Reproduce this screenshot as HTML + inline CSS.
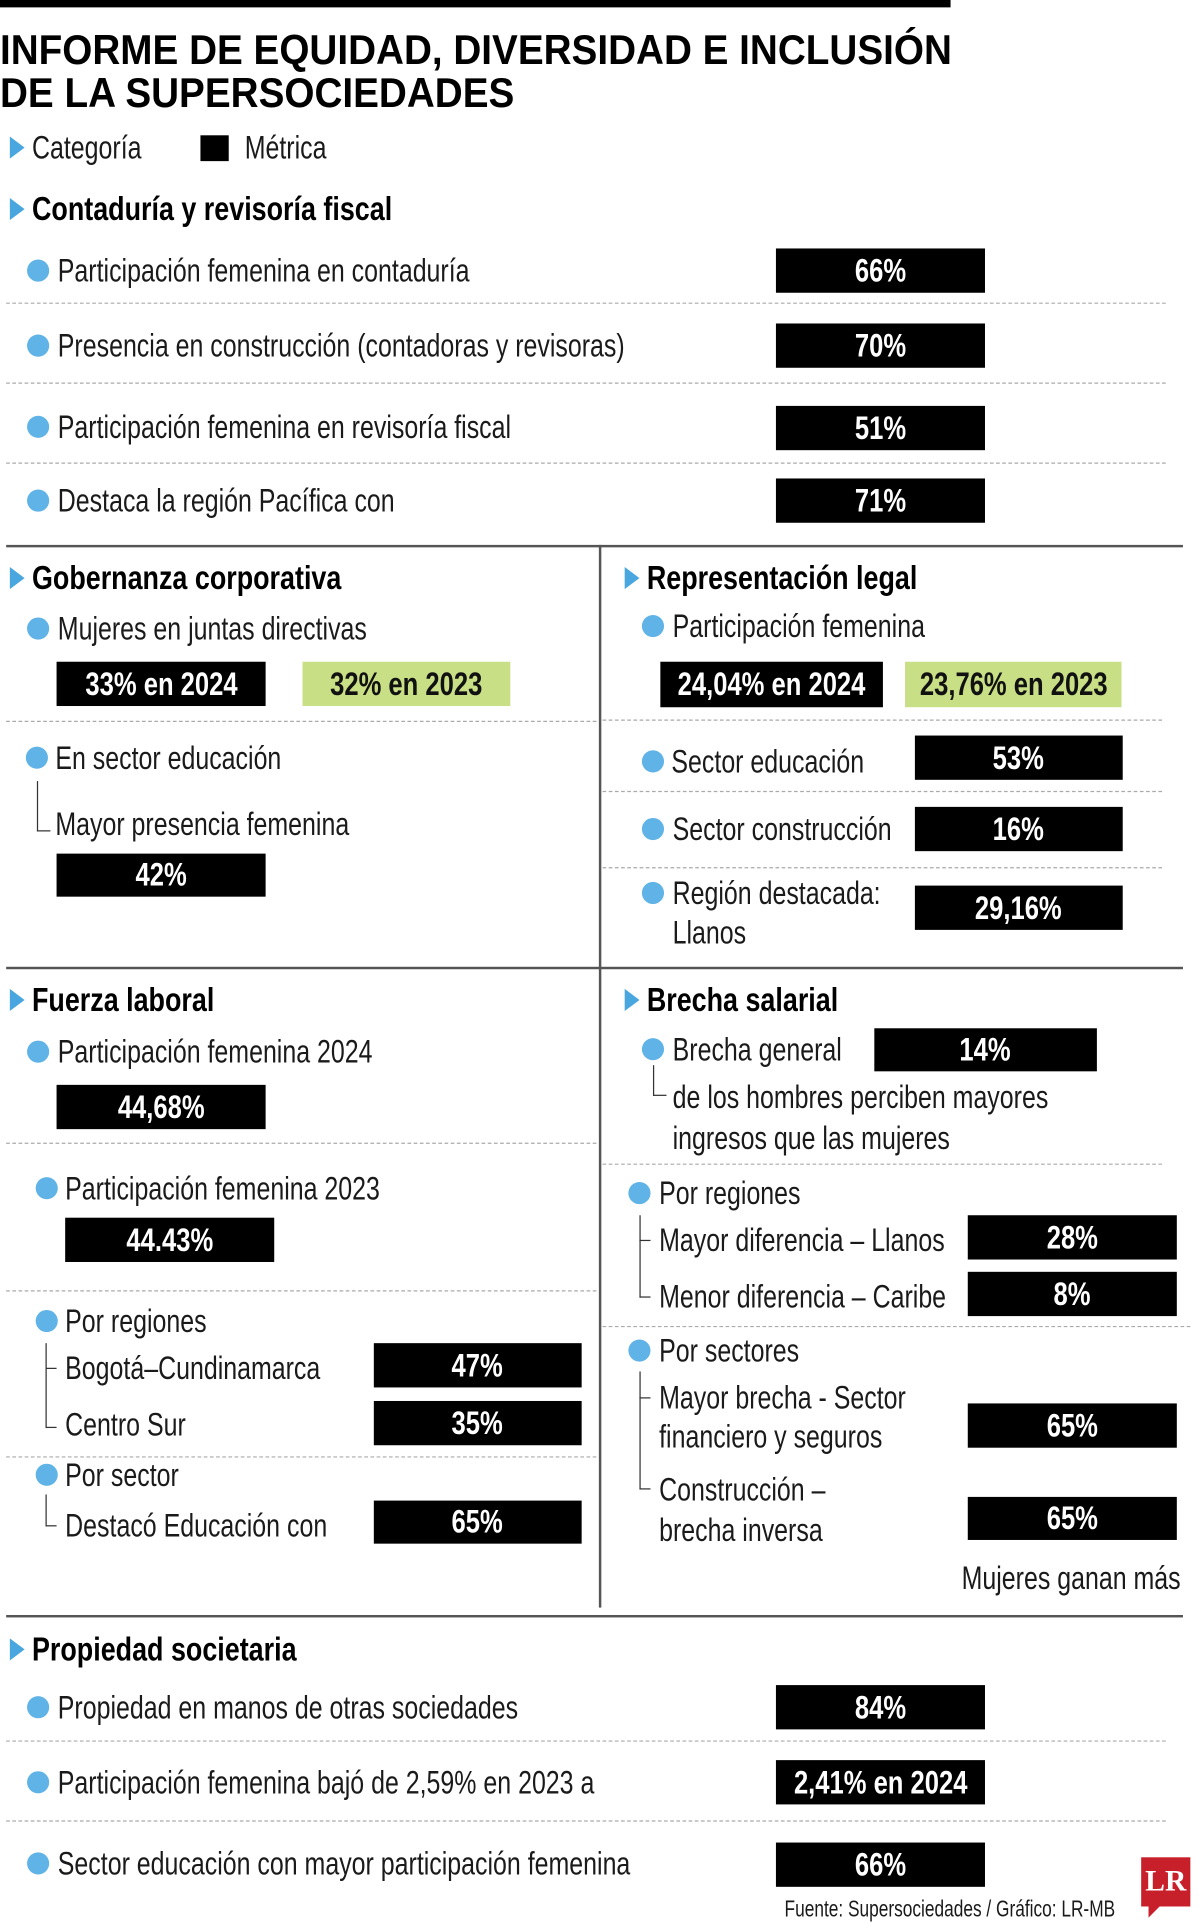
<!DOCTYPE html>
<html><head><meta charset="utf-8">
<style>
html,body{margin:0;padding:0;background:#fff;width:1199px;height:1920px;overflow:hidden}
#stage{position:absolute;left:0;top:0;width:975px;height:1561px;transform:scale(1.2297,1.23);transform-origin:0 0;font-family:"Liberation Sans",sans-serif;color:#111}
.el{position:absolute}
.t{position:absolute;white-space:nowrap;font-size:26px;line-height:32px;height:32px;transform:scaleX(.78);transform-origin:0 50%;color:#1a1a1a}
.h{font-weight:bold;font-size:27px;transform:scaleX(.81);color:#000}
.box{position:absolute;background:#000;color:#fff;font-weight:bold;font-size:26px;display:flex;align-items:center;justify-content:center;overflow:visible}
.box span{display:inline-block;transform:scaleX(.8);white-space:nowrap}
.green{background:#c8df86;color:#111}
.dot{position:absolute;width:18px;height:18px;border-radius:50%;background:#5fb3e6}
.tri{position:absolute;width:0;height:0;border-top:9px solid transparent;border-bottom:9px solid transparent;border-left:12px solid #4aa6df}
.dash{position:absolute;height:0;border-top:1.5px dashed #aaa}
.solid{position:absolute;background:#555}
.tree{position:absolute;border-left:1.5px solid #333;border-bottom:1.5px solid #333}
</style></head>
<body>
<div id="stage">
<div class="el" style="left:0;top:0;width:773px;height:6px;background:#000"></div>
<div class="t h" style="left:0;top:24px;font-size:34px;line-height:34px;height:36px;transform:scaleX(.925)">INFORME DE EQUIDAD, DIVERSIDAD E INCLUSIÓN</div>
<div class="t h" style="left:0;top:59px;font-size:34px;line-height:34px;height:36px;transform:scaleX(.925)">DE LA SUPERSOCIEDADES</div>
<div class="tri" style="left:8px;top:111px"></div>
<div class="t" style="left:26px;top:104px">Categoría</div>
<div class="el" style="left:163px;top:110px;width:23px;height:21px;background:#000"></div>
<div class="t" style="left:199px;top:104px">Métrica</div>
<div class="el" style="left:928px;top:1510px;width:40px;height:40px;background:#c8202a;color:#fff;font-family:'Liberation Serif',serif;font-weight:bold;font-size:24px;line-height:40px;text-align:center">LR</div>
<div class="el" style="left:934px;top:1549px;width:0;height:0;border-left:0 solid transparent;border-right:10px solid transparent;border-top:10px solid #c8202a"></div>
<div class="t" style="left:638px;top:1540px;font-size:19px;line-height:26px;height:26px;transform:scaleX(.74)">Fuente: Supersociedades / Gráfico: LR-MB</div>
</div>
<script>
const stage=document.getElementById('stage');
// headings [text,x,cy]
const headings=[["Contaduría y revisoría fiscal",8,170],["Gobernanza corporativa",8,470],["Representación legal",508,470],["Fuerza laboral",8,813],["Brecha salarial",508,813],["Propiedad societaria",8,1341]];
// labels [text,x,cy]
const labels=[["Participación femenina en contaduría",47,220],["Presencia en construcción  (contadoras y revisoras)",47,281],["Participación femenina en revisoría fiscal",47,347],["Destaca la región Pacífica con",47,407],
["Mujeres en juntas directivas",47,511],["En sector educación",45,616],["Mayor presencia femenina",45,670],
["Participación femenina",547,509],["Sector educación",546,619],["Sector construcción",547,674],["Región destacada:",547,726],["Llanos",547,758],
["Participación femenina 2024",47,855],["Participación femenina 2023",53,966],["Por regiones",53,1074],["Bogotá–Cundinamarca",53,1112],["Centro Sur",53,1158],["Por sector",53,1199],["Destacó Educación con",53,1240],
["Brecha general",547,853],["de los hombres perciben mayores",547,892],["ingresos que las mujeres",547,925],["Por regiones",536,970],["Mayor diferencia – Llanos",536,1008],["Menor diferencia – Caribe",536,1054],["Por sectores",536,1098],["Mayor brecha - Sector",536,1136],["financiero y seguros",536,1168],["Construcción –",536,1211],["brecha inversa",536,1244],["Mujeres ganan más",782,1283],
["Propiedad en manos de otras sociedades",47,1388],["Participación femenina bajó de 2,59% en 2023 a",47,1449],["Sector educación con mayor participación femenina",47,1515]];
// dots [x,cy]
const dots=[[31,220],[31,281],[31,347],[31,407],[31,511],[30,616],[531,509],[531,619],[531,674],[531,726],[31,855],[38,966],[38,1074],[38,1199],[531,853],[520,970],[520,1098],[31,1388],[31,1449],[31,1515]];
// metric values
const values=["66%","70%","51%","71%","33% en 2024","32% en 2023","42%","24,04% en 2024","23,76% en 2023","53%","16%","29,16%","44,68%","44.43%","47%","35%","65%","14%","28%","8%","65%","65%","84%","2,41% en 2024","66%"];
// boxes [x1,x2,y1,y2,green]
const boxes=[[631,801,202,238,0],[631,801,263,299,0],[631,801,330,366,0],[631,801,389,425,0],[46,216,538,574,0],[246,415,538,574,1],[46,216,694,729,0],[537,718,538,575,0],[736,912,538,575,1],[744,913,598,634,0],[744,913,656,692,0],[744,913,720,756,0],[46,216,882,918,0],[53,223,990,1026,0],[304,473,1092,1128,0],[304,473,1139,1175,0],[304,473,1220,1255,0],[711,892,836,871,0],[787,957,988,1024,0],[787,957,1034,1070,0],[787,957,1141,1177,0],[787,957,1217,1252,0],[631,801,1370,1406,0],[631,801,1431,1467,0],[631,801,1498,1534,0]];
const dashes=[[5,948,246],[5,948,311],[5,948,376],[5,485,586],[490,945,585],[490,945,643],[490,945,705],[5,485,929],[5,485,1049],[5,485,1184],[490,945,946],[490,968,1078],[5,948,1415],[5,948,1480]];
const solids=[[5,962,443,1.5],[5,962,786,1.5],[5,962,1313,1.5]];
// trees [x,y1,y2,w]
const trees=[[30,635,675,10],[37,1092,1112,8],[37,1112,1160,8],[37,1215,1240,8],[531,866,890,10],[520,988,1008,8],[520,1008,1054,8],[520,1115,1136,8],[520,1136,1210,8]];

headings.forEach(h=>{
  const tr=document.createElement('div');tr.className='tri';tr.style.left=h[1]+'px';tr.style.top=(h[2]-9)+'px';
  
  
  stage.appendChild(tr);
  const d=document.createElement('div');d.className='t h';d.textContent=h[0];d.style.left=(h[1]+18)+'px';d.style.top=(h[2]-16)+'px';
  
  
  stage.appendChild(d);
});
labels.forEach(l=>{
  const d=document.createElement('div');d.className='t';d.textContent=l[0];d.style.left=l[1]+'px';d.style.top=(l[2]-16)+'px';
  
  
  stage.appendChild(d);
});
dots.forEach(p=>{
  const d=document.createElement('div');d.className='dot';d.style.left=(p[0]-9)+'px';d.style.top=(p[1]-9)+'px';
  
  
  stage.appendChild(d);
});
boxes.forEach((b,i)=>{
  const d=document.createElement('div');d.className='box'+(b[4]?' green':'');
  d.style.left=b[0]+'px';d.style.width=(b[1]-b[0])+'px';d.style.top=b[2]+'px';d.style.height=(b[3]-b[2])+'px';
  const s=document.createElement('span');s.textContent=values[i];d.appendChild(s);
  
  
  stage.appendChild(d);
});
dashes.forEach(l=>{
  const d=document.createElement('div');d.className='dash';d.style.left=l[0]+'px';d.style.width=(l[1]-l[0])+'px';d.style.top=l[2]+'px';
  
  
  stage.appendChild(d);
});
solids.forEach(l=>{
  const d=document.createElement('div');d.className='solid';d.style.left=l[0]+'px';d.style.width=(l[1]-l[0])+'px';d.style.top=l[2]+'px';d.style.height=l[3]+'px';
  
  
  stage.appendChild(d);
});
const v=document.createElement('div');v.className='solid';v.style.left='487px';v.style.width='1.5px';v.style.top='443px';v.style.height='864px';


stage.appendChild(v);
trees.forEach(t=>{
  const d=document.createElement('div');d.className='tree';d.style.left=t[0]+'px';d.style.top=t[1]+'px';d.style.height=(t[2]-t[1])+'px';d.style.width=t[3]+'px';
  
  
  stage.appendChild(d);
});
</script>
</body></html>
